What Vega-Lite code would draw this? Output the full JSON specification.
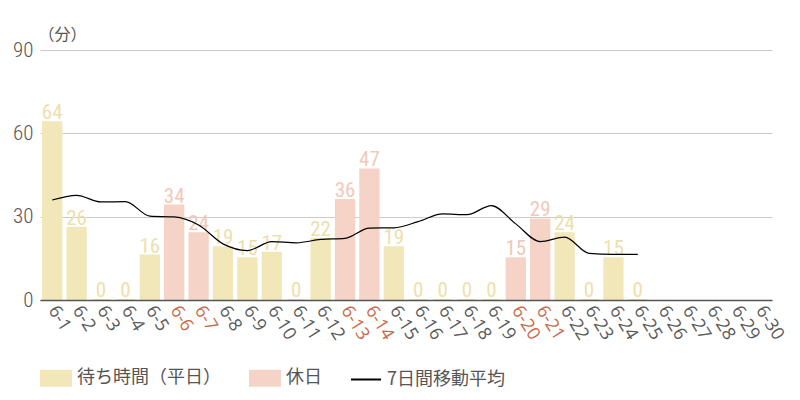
{
  "$schema": "https://vega.github.io/schema/vega-lite/v6.json",
  "autosize": "none",
  "width": 732,
  "height": 250,
  "padding": {"left": 40, "top": 50, "right": 28, "bottom": 100},
  "background": "#ffffff",
  "config": {
    "view": {"stroke": null},
    "font": "Roboto Condensed, Liberation Sans Narrow, Roboto"
  },
  "data": {
    "values": [
      {"d": "6-1", "v": 64, "t": "待ち時間（平日）", "ma": 36},
      {"d": "6-2", "v": 26, "t": "待ち時間（平日）", "ma": 37.7},
      {"d": "6-3", "v": 0, "t": "待ち時間（平日）", "ma": 35.3},
      {"d": "6-4", "v": 0, "t": "待ち時間（平日）", "ma": 35.4},
      {"d": "6-5", "v": 16, "t": "待ち時間（平日）", "ma": 30.2},
      {"d": "6-6", "v": 34, "t": "休日", "ma": 29.9},
      {"d": "6-7", "v": 24, "t": "休日", "ma": 27},
      {"d": "6-8", "v": 19, "t": "待ち時間（平日）", "ma": 20.2},
      {"d": "6-9", "v": 15, "t": "待ち時間（平日）", "ma": 17.8},
      {"d": "6-10", "v": 17, "t": "待ち時間（平日）", "ma": 21},
      {"d": "6-11", "v": 0, "t": "待ち時間（平日）", "ma": 20.6},
      {"d": "6-12", "v": 22, "t": "待ち時間（平日）", "ma": 21.8},
      {"d": "6-13", "v": 36, "t": "休日", "ma": 22.2},
      {"d": "6-14", "v": 47, "t": "休日", "ma": 25.9},
      {"d": "6-15", "v": 19, "t": "待ち時間（平日）", "ma": 26},
      {"d": "6-16", "v": 0, "t": "待ち時間（平日）", "ma": 28.2},
      {"d": "6-17", "v": 0, "t": "待ち時間（平日）", "ma": 31},
      {"d": "6-18", "v": 0, "t": "待ち時間（平日）", "ma": 30.7},
      {"d": "6-19", "v": 0, "t": "待ち時間（平日）", "ma": 34},
      {"d": "6-20", "v": 15, "t": "休日", "ma": 27.4},
      {"d": "6-21", "v": 29, "t": "休日", "ma": 21},
      {"d": "6-22", "v": 24, "t": "待ち時間（平日）", "ma": 22.6},
      {"d": "6-23", "v": 0, "t": "待ち時間（平日）", "ma": 16.8},
      {"d": "6-24", "v": 15, "t": "待ち時間（平日）", "ma": 16.4},
      {"d": "6-25", "v": 0, "t": "待ち時間（平日）", "ma": 16.4}
    ]
  },
  "encoding": {
    "x": {
      "field": "d",
      "type": "nominal",
      "sort": null,
      "scale": {
        "domain": ["6-1","6-2","6-3","6-4","6-5","6-6","6-7","6-8","6-9","6-10","6-11","6-12","6-13","6-14","6-15","6-16","6-17","6-18","6-19","6-20","6-21","6-22","6-23","6-24","6-25","6-26","6-27","6-28","6-29","6-30"],
        "paddingInner": 0.25,
        "paddingOuter": 0.125
      },
      "axis": {
        "title": null,
        "labelAngle": 58,
        "labelAlign": "left",
        "labelBaseline": "middle",
        "labelPadding": 7,
        "labelFontSize": 18,
        "labelFont": "Open Sans",
        "labelFontWeight": "normal",
        "labelColor": {"expr": "indexof(['6-6','6-7','6-13','6-14','6-20','6-21'], datum.value) >= 0 ? '#c9694b' : '#5a5a5a'"},
        "ticks": false,
        "domainColor": "#555555",
        "domainWidth": 1.5,
        "zindex": 1
      }
    }
  },
  "layer": [
    {
      "mark": {"type": "bar", "strokeWidth": 2},
      "encoding": {
        "y": {
          "field": "v",
          "type": "quantitative",
          "scale": {"domain": [0, 90]},
          "axis": {
            "values": [0, 30, 60, 90],
            "title": "（分）",
            "titleAngle": 0,
            "titleAlign": "left",
            "titleBaseline": "middle",
            "titleX": -2,
            "titleY": -16,
            "titleFont": "Noto Sans CJK JP",
            "titleFontSize": 16,
            "titleFontWeight": "normal",
            "titleColor": "#555555",
            "labelFontSize": 21,
            "labelFontWeight": 300,
            "labelColor": "#555555",
            "labelPadding": 7,
            "ticks": false,
            "domain": false,
            "gridColor": "#cccccc",
            "gridWidth": 1
          }
        },
        "color": {
          "field": "t",
          "type": "nominal",
          "scale": {
            "domain": ["待ち時間（平日）", "休日", "7日間移動平均"],
            "range": ["#f1e7b9", "#f5d3c6", "#000000"]
          },
          "legend": {
            "title": null,
            "orient": "none",
            "legendX": 0,
            "legendY": 312,
            "direction": "horizontal",
            "symbolSize": 900,
            "symbolStrokeWidth": 0,
            "labelFont": "Noto Sans CJK JP",
            "labelFontSize": 18,
            "labelColor": "#555555",
            "labelOffset": 5,
            "columnPadding": 25,
            "labelLimit": 300,
            "encode": {
              "symbols": {
                "update": {
                  "shape": {"signal": "datum.value === '7日間移動平均' ? 'M-1,0H1' : 'M-1,-0.5H1V0.5H-1Z'"},
                  "fill": {"signal": "datum.value === '7日間移動平均' ? 'transparent' : (datum.value === '休日' ? '#f5d3c6' : '#f1e7b9')"},
                  "stroke": {"signal": "datum.value === '7日間移動平均' ? '#000000' : 'transparent'"},
                  "strokeWidth": {"value": 2},
                  "opacity": {"value": 1}
                }
              }
            }
          }
        },
        "stroke": {"field": "t", "type": "nominal", "scale": {"domain": ["待ち時間（平日）", "休日"], "range": ["#f1e7b9", "#f5d3c6"]}, "legend": null}
      }
    },
    {
      "mark": {"type": "text", "baseline": "alphabetic", "dy": -3, "fontSize": 21},
      "encoding": {
        "y": {"field": "v", "type": "quantitative"},
        "text": {"field": "v", "type": "quantitative"},
        "color": {
          "condition": {"test": "datum.t === '休日'", "value": "#f2c8b9"},
          "value": "#eee0ab"
        }
      }
    },
    {
      "mark": {"type": "line", "interpolate": "monotone", "strokeWidth": 1.2},
      "encoding": {
        "y": {"field": "ma", "type": "quantitative"},
        "color": {"datum": "7日間移動平均"}
      }
    }
  ]
}
